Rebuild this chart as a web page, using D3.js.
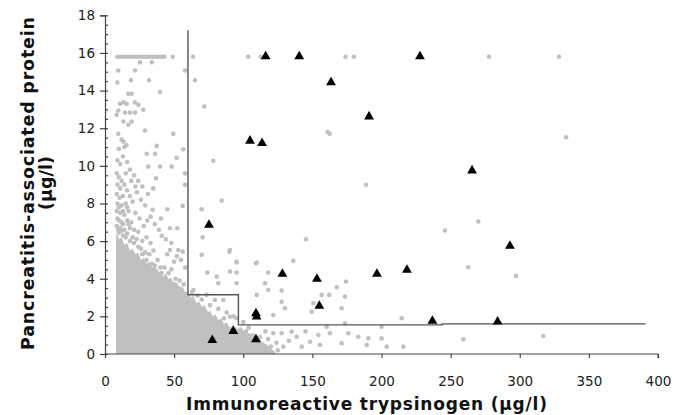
<!DOCTYPE html>
<html>
<head>
<meta charset="utf-8">
<script src="https://cdnjs.cloudflare.com/ajax/libs/d3/7.8.5/d3.min.js"></script>
<style>
  body { margin: 0; background: #fff; }
  text { font-family: "DejaVu Sans", sans-serif; }
</style>
</head>
<body>
<div id="chart"></div>
<script>
const xTicks = [0, 50, 100, 150, 200, 250, 300, 350, 400];
const yTicks = [0, 2, 4, 6, 8, 10, 12, 14, 16, 18];

// cut-off line (IRT, PAP)
const cutX = [60, 60, 96.5, 96.5, 244, 244, 391];
const cutY = [17.2, 3.15, 3.15, 1.55, 1.55, 1.6, 1.6];

// top edge of the solid cloud of controls
const denseX = [8, 9, 10, 12, 14, 16, 18, 20, 22, 24, 26, 28, 30, 32, 34, 36, 38, 40, 42, 44, 46, 48, 50, 52, 54, 56, 58, 60, 62, 64, 66, 68, 70, 72, 74, 76, 78, 80, 82, 84, 86, 88, 90, 93, 96, 99, 102, 105, 108, 111, 114, 117, 120, 123];
const denseTop = [6.3, 6.4, 6.1, 6.2, 5.8, 5.9, 5.5, 5.6, 5.3, 5.4, 5.0, 5.1, 4.8, 4.9, 4.6, 4.7, 4.3, 4.4, 4.1, 4.3, 3.9, 4.0, 3.7, 3.8, 3.5, 3.6, 3.2, 3.3, 3.0, 3.1, 2.7, 2.8, 2.5, 2.6, 2.2, 2.3, 2.0, 2.1, 1.8, 1.9, 1.6, 1.7, 1.4, 1.5, 1.3, 1.3, 1.1, 1.1, 0.9, 0.9, 0.6, 0.5, 0.3, 0.1];

// screened newborns without CF (scattered)
const controls = [
  // capped row at 15.8
  [9, 15.8], [11, 15.8], [13, 15.8], [15, 15.8], [17, 15.8], [19, 15.8], [21, 15.8], [23, 15.8], [25, 15.8], [27, 15.8], [29, 15.8], [31, 15.8], [33, 15.8], [35, 15.8], [37, 15.8], [39, 15.8], [41, 15.8], [43, 15.8], [49, 15.8], [63.7, 15.8], [103.6, 15.8], [112.8, 15.8], [174, 15.8], [180, 15.8], [277.8, 15.8], [328.4, 15.8],
  [25.3, 15.5], [33.8, 15.5], [9.6, 15.07], [21.7, 15.07], [57.9, 15.07], [8.9, 14.43], [18.8, 14.55], [31.8, 14.55], [65.1, 14.55],
  [16.9, 13.83], [19.3, 13.83], [39.8, 13.92], [71.8, 13.15],
  [10.8, 13.3], [13.3, 13.37], [15.7, 13.3], [21.7, 13.37], [24.1, 13.25], [9.6, 12.94], [8.4, 12.71], [14.5, 12.83], [18.1, 12.83], [21.7, 12.83], [27.7, 12.98],
  [13.3, 12.36], [16.9, 12.18], [19.3, 12.36], [28.9, 11.88], [49.4, 11.7], [9.6, 11.7], [13.3, 11.29], [15.5, 11.1], [37.4, 11.06], [56.6, 10.88],
  [30.2, 10.64], [36.2, 10.64], [51.8, 10.43], [31.3, 9.96], [39.8, 9.96], [48.2, 9.96], [57.9, 9.6], [57.9, 8.99], [78.3, 10.27],
  [84.4, 8.15], [69.9, 7.69], [70.6, 6.2], [89.9, 5.44], [56.2, 7.87], [45.1, 7.69], [40.5, 7.2], [47, 6.68], [52.3, 6.68], [41, 6.28],
  [47, 5.53], [53, 5.53], [56.2, 5.44], [36.9, 9.34], [34.9, 8.8], [34.5, 7.66], [30.6, 7.09],
  // left column above the solid cloud
  [8.5, 9.6], [10, 9.4], [12, 9.2], [9, 9.0], [11, 8.8], [14, 9.0], [16, 8.7], [8.5, 8.5], [10.5, 8.3], [13, 8.4], [18, 8.4],
  [9, 8.0], [12, 7.9], [15, 8.0], [20, 8.1], [8.5, 7.6], [11, 7.5], [14, 7.4], [17, 7.6], [22, 7.5], [9, 7.2], [12, 7.0],
  [16, 7.1], [19, 7.0], [25, 7.2], [8.5, 6.8], [11, 6.7], [14, 6.6], [18, 6.7], [21, 6.6], [24, 6.5], [28, 6.8], [10, 6.45],
  [13, 6.3], [16, 6.4], [20, 6.2], [23, 6.1], [27, 6.0], [30, 6.2], [33, 5.9], [26, 5.6], [29, 5.4], [32, 5.3], [35, 5.5],
  [38, 5.0], [36, 4.7], [40, 4.6], [43, 4.6], [46, 4.3], [48, 4.5], [51, 4.0], [54, 3.9], [57, 3.7],
  [9, 10.3], [11, 10.1], [13, 10.5], [10, 10.9], [14, 11.0], [12, 11.4], [16, 10.2], [18, 9.8], [21, 9.5], [24, 9.2],
  [27, 8.9], [23, 8.6], [26, 8.2], [29, 7.9], [31, 8.5], [33, 7.3], [36, 6.9], [39, 6.6], [44, 6.1], [48, 5.9], [52, 5.2],
  [55, 5.0], [50, 4.9], [45, 5.3], [58, 4.6], [19, 9.2], [15, 9.6], [22, 8.9],
  [10, 7.8], [13, 7.6], [16, 7.8], [10, 7.1], [13, 6.9], [17, 6.9], [9.5, 6.6], [12, 6.55], [15, 6.2], [18, 6.0], [21, 5.9],
  [24, 5.7], [27, 5.3], [30, 5.0], [34, 4.8], [37, 4.4], [41, 4.3], [44, 4.0], [47, 3.9], [50, 3.7], [53, 3.5], [56, 3.3],
  [59, 3.2], [61, 2.9], [64, 2.7], [67, 2.5], [70, 2.3], [73, 2.2], [76, 2.0], [79, 1.8], [82, 1.6], [85, 1.5], [88, 1.4],
  [91, 1.2], [94, 1.1], [97, 1.0], [100, 0.9], [103, 0.7], [106, 0.6], [109, 0.4], [112, 0.3], [120, 0.4], [125, 0.2],
  // beyond the vertical cut-off
  [69.9, 5.27], [74, 4.33], [80.8, 4.11], [82, 3.76], [95.2, 4.86], [109.2, 4.82], [95.2, 3.76], [109.7, 3.14], [115.7, 3.76],
  [73.5, 3.14], [79.5, 2.87], [85.6, 2.87], [90.4, 1.98], [95.2, 1.9], [90.4, 5.53], [90.4, 4.38], [64, 3.4], [67, 3.1], [76, 2.6],
  [82, 2.4], [88, 2.2], [93, 2.0], [100, 1.7], [104, 1.4], [70, 2.9], [63, 3.3], [86, 1.9], [98, 1.3], [102, 1.2], [107, 1.0],
  [112, 0.9], [116, 1.2], [114, 0.5], [118, 0.8],
  [121.7, 1.1], [127.8, 1.1], [135, 1.19], [138.7, 0.92], [129, 0.39], [142.3, 0.39], [148.3, 0.65], [154.3, 1.01], [155.5, 0.48],
  [162.7, 1.1], [171.2, 0.57], [176, 1.1], [183.2, 0.92], [189.3, 0.48], [200.1, 0.83], [203.8, 0.39], [215.8, 0.39], [200.1, 1.45],
  [124, 0.6], [133, 0.7], [145, 1.2], [160.3, 1.45], [190.5, 0.83], [214.6, 1.9], [173.6, 1.63],
  [145.4, 6.1], [136.2, 4.95], [109.7, 4.86], [95.2, 4.91], [95.2, 4.33], [118.1, 4.33], [127.8, 3.37], [118.1, 3.4], [127.8, 2.78],
  [121.7, 2.07], [130.2, 2.43], [149.5, 2.25], [150.7, 2.7], [156.7, 3.14], [162.2, 3.14], [167.6, 3.55], [174.3, 3.85],
  [173.6, 3.05], [171.2, 2.43], [245.9, 6.56], [270, 7.04], [262.8, 4.61], [297.3, 4.15], [259.2, 0.78], [317, 0.96],
  [161, 11.8], [162.5, 11.7], [188.8, 8.99], [333.5, 11.52]
];

// CF cases
const cases = [
  [116.2, 15.81], [140.5, 15.81], [227.8, 15.81], [163.5, 14.43], [191, 12.62], [104.9, 11.33], [113.6, 11.2], [265.5, 9.75],
  [75.2, 6.86], [77.6, 0.74], [92.8, 1.22], [128.3, 4.26], [153.3, 3.99], [196.7, 4.26], [218.4, 4.47], [155, 2.55],
  [109.2, 2.16], [109.6, 1.98], [109.2, 0.78], [236.8, 1.76], [292.9, 5.74], [284, 1.72]
];

const width = 685, height = 415;
const svg = d3.select("#chart").append("svg")
  .attr("width", width)
  .attr("height", height);

const x = d3.scaleLinear().domain([0, 400]).range([105, 658]);
const y = d3.scaleLinear().domain([0, 18]).range([354, 15.3]);

const grey = "#c0c0c0";

// solid cloud
const dense = denseX.map((d, i) => ({x: d, top: denseTop[i]}));
svg.append("path")
  .datum(dense)
  .attr("fill", grey)
  .attr("d", d3.area().x(d => x(d.x)).y0(y(0)).y1(d => y(d.top)));

// scattered controls
svg.append("g").selectAll("circle")
  .data(controls)
  .enter()
  .append("circle")
    .attr("cx", d => x(d[0]))
    .attr("cy", d => y(d[1]))
    .attr("r", 2.3)
    .attr("fill", grey);

// cut-off line
const cut = cutX.map((d, i) => [d, cutY[i]]);
svg.append("path")
  .datum(cut)
  .attr("fill", "none")
  .attr("stroke", "#555")
  .attr("stroke-width", 1.4)
  .attr("d", d3.line().x(d => x(d[0])).y(d => y(d[1])));

// cases
const tri = d3.symbol().type(d3.symbolTriangle).size(42);
svg.append("g").selectAll("path")
  .data(cases)
  .enter()
  .append("path")
    .attr("d", tri)
    .attr("transform", d => "translate(" + x(d[0]) + "," + y(d[1]) + ")")
    .attr("fill", "#000");

// Y axis
svg.append("g")
  .attr("transform", "translate(" + x(0) + ",0)")
  .call(d3.axisLeft(y).tickValues(yTicks).tickSize(5).tickPadding(5));
svg.append("g")
  .attr("transform", "translate(" + x(0) + ",0)")
  .call(d3.axisRight(y).tickValues(d3.range(0, 18.01, 0.5)).tickSize(3).tickFormat(""))
  .select(".domain").remove();

// X axis
const xAxis = svg.append("g")
  .attr("transform", "translate(0," + y(0) + ")")
  .call(d3.axisBottom(x).tickValues(xTicks).tickSize(4).tickPadding(18));

svg.selectAll(".domain, .tick line").attr("stroke", "#444").attr("stroke-width", 1.2);
svg.selectAll(".tick text")
  .attr("fill", "#222")
  .style("font-size", "13.5px")
  .style("font-family", "'DejaVu Sans', sans-serif");
xAxis.selectAll(".domain").attr("d", "M" + x(0) + ",0H" + x(400) + "V4");

// titles
svg.append("text")
  .attr("x", 186)
  .attr("y", 410)
  .attr("textLength", 361)
  .attr("lengthAdjust", "spacing")
  .style("font-weight", "bold")
  .style("font-size", "17px")
  .style("font-family", "'DejaVu Sans', sans-serif")
  .attr("fill", "#111")
  .text("Immunoreactive trypsinogen (µg/l)");

svg.append("text")
  .attr("transform", "translate(34,350) rotate(-90)")
  .attr("textLength", 333)
  .attr("lengthAdjust", "spacing")
  .style("font-weight", "bold")
  .style("font-size", "17.5px")
  .style("font-family", "'DejaVu Sans', sans-serif")
  .attr("fill", "#111")
  .text("Pancreatitis-associated protein");

svg.append("text")
  .attr("transform", "translate(52,183) rotate(-90)")
  .attr("text-anchor", "middle")
  .style("font-weight", "bold")
  .style("font-size", "17.5px")
  .style("font-family", "'DejaVu Sans', sans-serif")
  .attr("fill", "#111")
  .text("(µg/l)");
</script>
</body>
</html>
